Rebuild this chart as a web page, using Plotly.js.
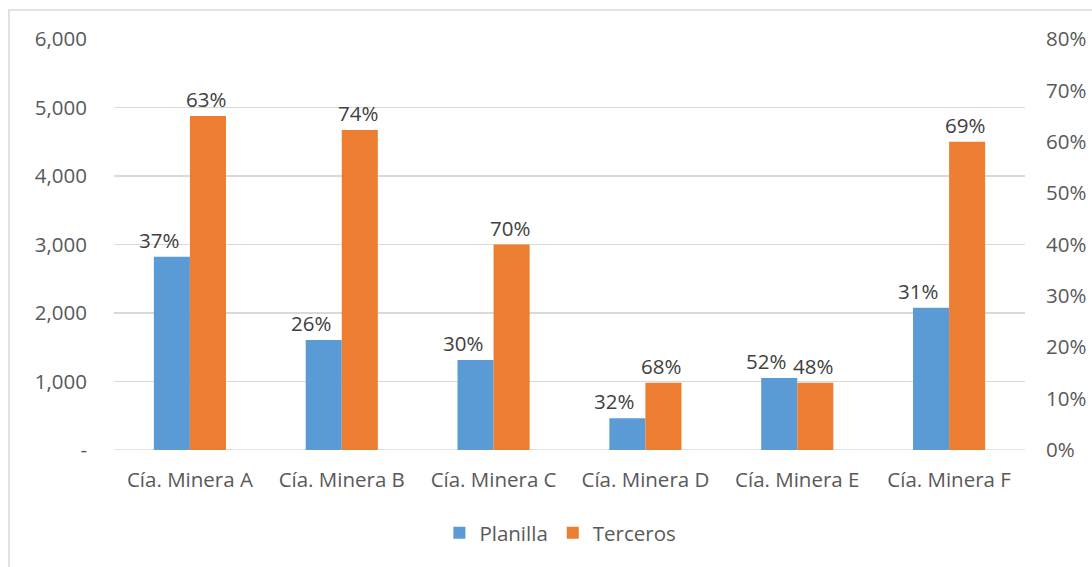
<!DOCTYPE html>
<html>
<head>
<meta charset="utf-8">
<script src="https://cdn.plot.ly/plotly-3.0.1.min.js"></script>
<style>html,body{margin:0;padding:0;background:#fff;overflow:hidden;}#chart{width:1092px;height:567px;}</style>
</head>
<body>
<div id="chart"></div>
<script>
const categories = ["Cía. Minera A", "Cía. Minera B", "Cía. Minera C", "Cía. Minera D", "Cía. Minera E", "Cía. Minera F"];
const planilla = [2820, 1605, 1315, 465, 1050, 2075];
const terceros = [4875, 4670, 3000, 980, 980, 4500];
const planillaPct = ["37%", "26%", "30%", "32%", "52%", "31%"];
const tercerosPct = ["63%", "74%", "70%", "68%", "48%", "69%"];
const leftTickVals = [0, 1000, 2000, 3000, 4000, 5000, 6000];
const leftTickText = ["-", "1,000", "2,000", "3,000", "4,000", "5,000", "6,000"];

const FONT = "'Open Sans', sans-serif";
const FS = 20.5;
const traces = [
  {type: "bar", name: "Planilla", x: categories, y: planilla,
   marker: {color: "#5B9BD5"}, hoverinfo: "x+y"},
  {type: "bar", name: "Terceros", x: categories, y: terceros,
   marker: {color: "#ED7D31"}, hoverinfo: "x+y"},
  {type: "scatter", x: categories, y: [null, null, null, null, null, null], yaxis: "y2",
   mode: "none", showlegend: false, hoverinfo: "skip"}
];

// data labels above each bar (label position offsets in px are style only)
const annotations = [];
categories.forEach((c, i) => {
  annotations.push({x: c, y: planilla[i], xref: "x", yref: "y", text: planillaPct[i],
    showarrow: false, xanchor: "center", yanchor: "bottom", xshift: -31, yshift: 1,
    font: {family: FONT, size: FS, color: "#404040"}});
  annotations.push({x: c, y: terceros[i], xref: "x", yref: "y", text: tercerosPct[i],
    showarrow: false, xanchor: "center", yanchor: "bottom", xshift: 16, yshift: 1,
    font: {family: FONT, size: FS, color: "#404040"}});
});

const layout = {
  width: 1092, height: 567,
  margin: {l: 114, r: 67, t: 39, b: 117},
  paper_bgcolor: "#fff", plot_bgcolor: "#fff",
  font: {family: FONT, size: FS, color: "#595959"},
  barmode: "group", bargap: 0.525, bargroupgap: 0,
  showlegend: true,
  legend: {orientation: "h", x: 0.49, xanchor: "center", y: -0.202, yanchor: "middle",
           font: {family: FONT, size: FS, color: "#595959"}, traceorder: "normal",
           itemwidth: 30},
  xaxis: {type: "category", showgrid: false, zeroline: false, showline: false,
          ticks: "", ticklabelstandoff: 15,
          tickfont: {family: FONT, size: FS, color: "#595959"}, fixedrange: true},
  yaxis: {range: [0, 6000], tickvals: leftTickVals, ticktext: leftTickText,
          showgrid: true, gridcolor: "#D9D9D9", gridwidth: 1.5, zeroline: false,
          showline: false, ticks: "", ticklabelstandoff: 26,
          tickfont: {family: FONT, size: FS, color: "#595959"}, fixedrange: true},
  yaxis2: {range: [0, 0.8], dtick: 0.1, tickformat: ".0%", overlaying: "y", side: "right",
           showgrid: false, zeroline: false, showline: false, ticks: "",
           ticklabelstandoff: 20,
           tickfont: {family: FONT, size: FS, color: "#595959"}, fixedrange: true},
  annotations: annotations,
  shapes: [
    {type: "rect", xref: "paper", yref: "paper", x0: -0.1153, x1: 1.3, y0: -0.5, y1: 1.0706,
     line: {color: "#D9D9D9", width: 1.5}, fillcolor: "rgba(0,0,0,0)", layer: "below"},
    {type: "line", xref: "paper", yref: "y", x0: 0, x1: 1, y0: 0, y1: 0,
     line: {color: "#D9D9D9", width: 1.5}, layer: "below"}
  ]
};

Plotly.newPlot("chart", traces, layout, {displayModeBar: false, staticPlot: true});
</script>
</body>
</html>
